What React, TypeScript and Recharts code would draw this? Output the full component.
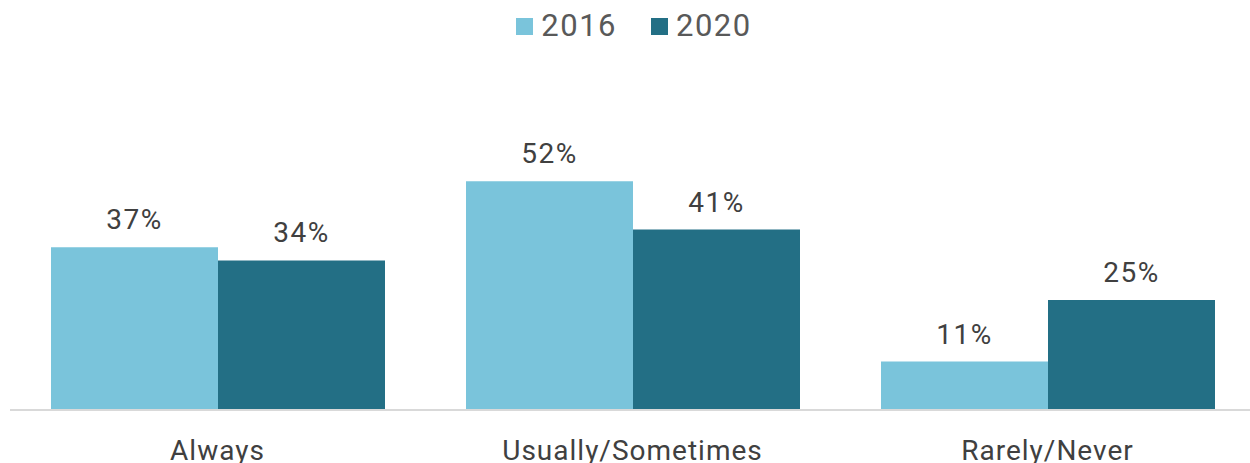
import React from 'react';
import { BarChart, Bar, XAxis, YAxis, Legend, LabelList } from 'recharts';

const categories = ['Always', 'Usually/Sometimes', 'Rarely/Never'];
const values2016 = [37, 52, 11];
const values2020 = [34, 41, 25];
const seriesNames = ['2016', '2020'];
const seriesColors = ['#7AC4DB', '#236F85'];

const data = categories.map((c, i) => ({
  category: c,
  s2016: values2016[i],
  s2020: values2020[i],
}));

const FONT = 'Roboto, "Liberation Sans", sans-serif';

const LegendContent = () => (
  <div
    style={{
      display: 'flex',
      justifyContent: 'center',
      alignItems: 'center',
      width: 1250,
      paddingLeft: 18,
      boxSizing: 'border-box',
      height: 50,
      fontFamily: FONT,
      fontSize: 31,
      letterSpacing: 1.5,
      color: '#595959',
    }}
  >
    {seriesNames.map((n, i) => (
      <div key={n} style={{ display: 'flex', alignItems: 'center', marginRight: i === 0 ? 34 : 0 }}>
        <div style={{ width: 17, height: 17, background: seriesColors[i], marginRight: 8, marginTop: 2 }} />
        <span>{n}</span>
      </div>
    ))}
  </div>
);

const labelStyle = { fill: '#404040', fontSize: 28, fontFamily: FONT, letterSpacing: 1.5 };

export default function App() {
  return (
    <div style={{ position: 'absolute', left: 0, top: 0, width: 1250, height: 463, background: '#fff', overflow: 'hidden' }}>
      <BarChart
        width={1250}
        height={463}
        data={data}
        margin={{ top: 58, right: -5, left: 10, bottom: 0 }}
        barCategoryGap={41}
        barGap={0}
      >
        <XAxis
          dataKey="category"
          height={53}
          tickLine={false}
          tickSize={0}
          tickMargin={30}
          axisLine={{ stroke: '#D9D9D9', strokeWidth: 2 }}
          tick={{ fill: '#404040', fontSize: 28, fontFamily: FONT, letterSpacing: 1 }}
          interval={0}
        />
        <YAxis hide domain={[0, 80]} />
        <Legend
          layout="horizontal"
          verticalAlign="middle"
          align="center"
          wrapperStyle={{ top: 0, left: 0, width: 1250 }}
          content={<LegendContent />}
        />
        <Bar dataKey="s2016" name={seriesNames[0]} fill={seriesColors[0]} isAnimationActive={false}>
          <LabelList
            dataKey="s2016"
            position="top"
            offset={18}
            formatter={(v: number) => `${v}%`}
            style={labelStyle}
          />
        </Bar>
        <Bar dataKey="s2020" name={seriesNames[1]} fill={seriesColors[1]} isAnimationActive={false}>
          <LabelList
            dataKey="s2020"
            position="top"
            offset={18}
            formatter={(v: number) => `${v}%`}
            style={labelStyle}
          />
        </Bar>
      </BarChart>
    </div>
  );
}
